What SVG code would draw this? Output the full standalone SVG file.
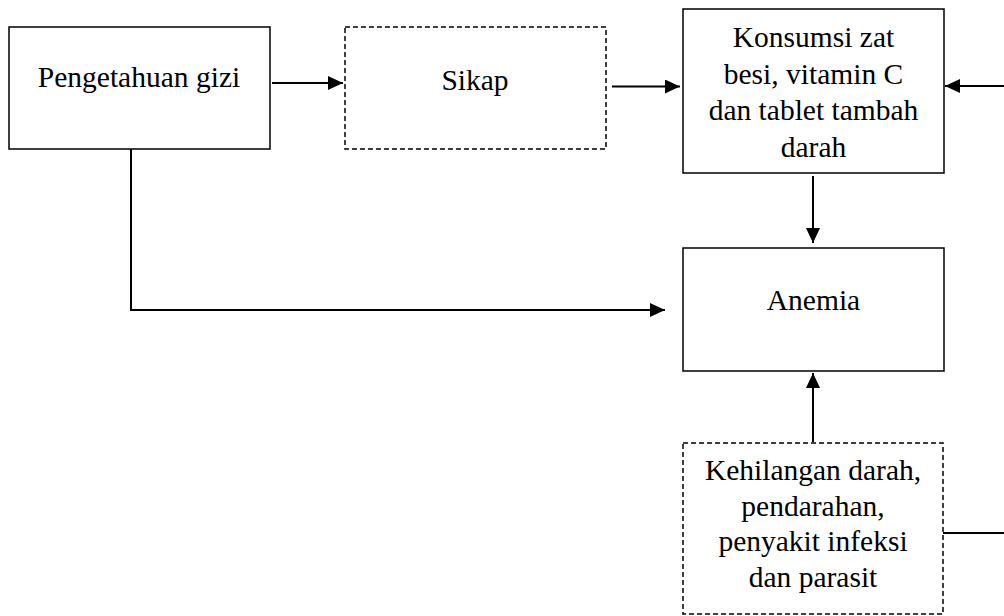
<svg xmlns="http://www.w3.org/2000/svg" width="1004" height="616" viewBox="0 0 1004 616">
<style>
.box{fill:#fff;stroke:#000;stroke-width:1.5}
.dash{fill:#fff;stroke:#000;stroke-width:1.5;stroke-dasharray:5 3}
.t{font-family:"Liberation Serif","Times New Roman",serif;font-size:29.5px;fill:#000;text-anchor:middle}
.c{fill:none;stroke:#000;stroke-width:2}
</style>
<defs>
<marker id="ah" markerUnits="userSpaceOnUse" markerWidth="16" markerHeight="14" refX="15" refY="7" orient="auto">
<path d="M0,0 L15,7 L0,14 Z" fill="#000"/>
</marker>
</defs>
<g id="pengetahuan">
<rect class="box" x="9" y="27" width="261" height="122"/>
<text class="t" x="139" y="87">Pengetahuan gizi</text>
</g>
<g id="sikap">
<rect class="dash" x="345" y="27" width="261" height="122"/>
<text class="t" x="475" y="90">Sikap</text>
</g>
<g id="konsumsi">
<rect class="box" x="683" y="9" width="261" height="164"/>
<text class="t" x="813.5" y="47">Konsumsi zat</text>
<text class="t" x="813.5" y="83.5">besi, vitamin C</text>
<text class="t" x="813.5" y="120">dan tablet tambah</text>
<text class="t" x="813.5" y="156.5">darah</text>
</g>
<g id="anemia">
<rect class="box" x="683" y="248" width="261" height="123"/>
<text class="t" x="813.5" y="310">Anemia</text>
</g>
<g id="kehilangan">
<rect class="dash" x="683" y="443" width="260" height="171"/>
<text class="t" x="813" y="480">Kehilangan darah,</text>
<text class="t" x="813" y="515.5">pendarahan,</text>
<text class="t" x="813" y="551">penyakit infeksi</text>
<text class="t" x="813" y="586.5">dan parasit</text>
</g>
<g id="connectors">
<line class="c" x1="272" y1="83" x2="343" y2="83" marker-end="url(#ah)"/>
<line class="c" x1="612" y1="86.5" x2="680" y2="86.5" marker-end="url(#ah)"/>
<line class="c" x1="1004" y1="86" x2="945" y2="86" marker-end="url(#ah)"/>
<line class="c" x1="813" y1="176" x2="813" y2="243" marker-end="url(#ah)"/>
<polyline class="c" points="131,149 131,310 665,310" marker-end="url(#ah)"/>
<line class="c" x1="813" y1="442" x2="813" y2="373" marker-end="url(#ah)"/>
<line class="c" x1="943" y1="533" x2="1004" y2="533"/>
</g>
</svg>
